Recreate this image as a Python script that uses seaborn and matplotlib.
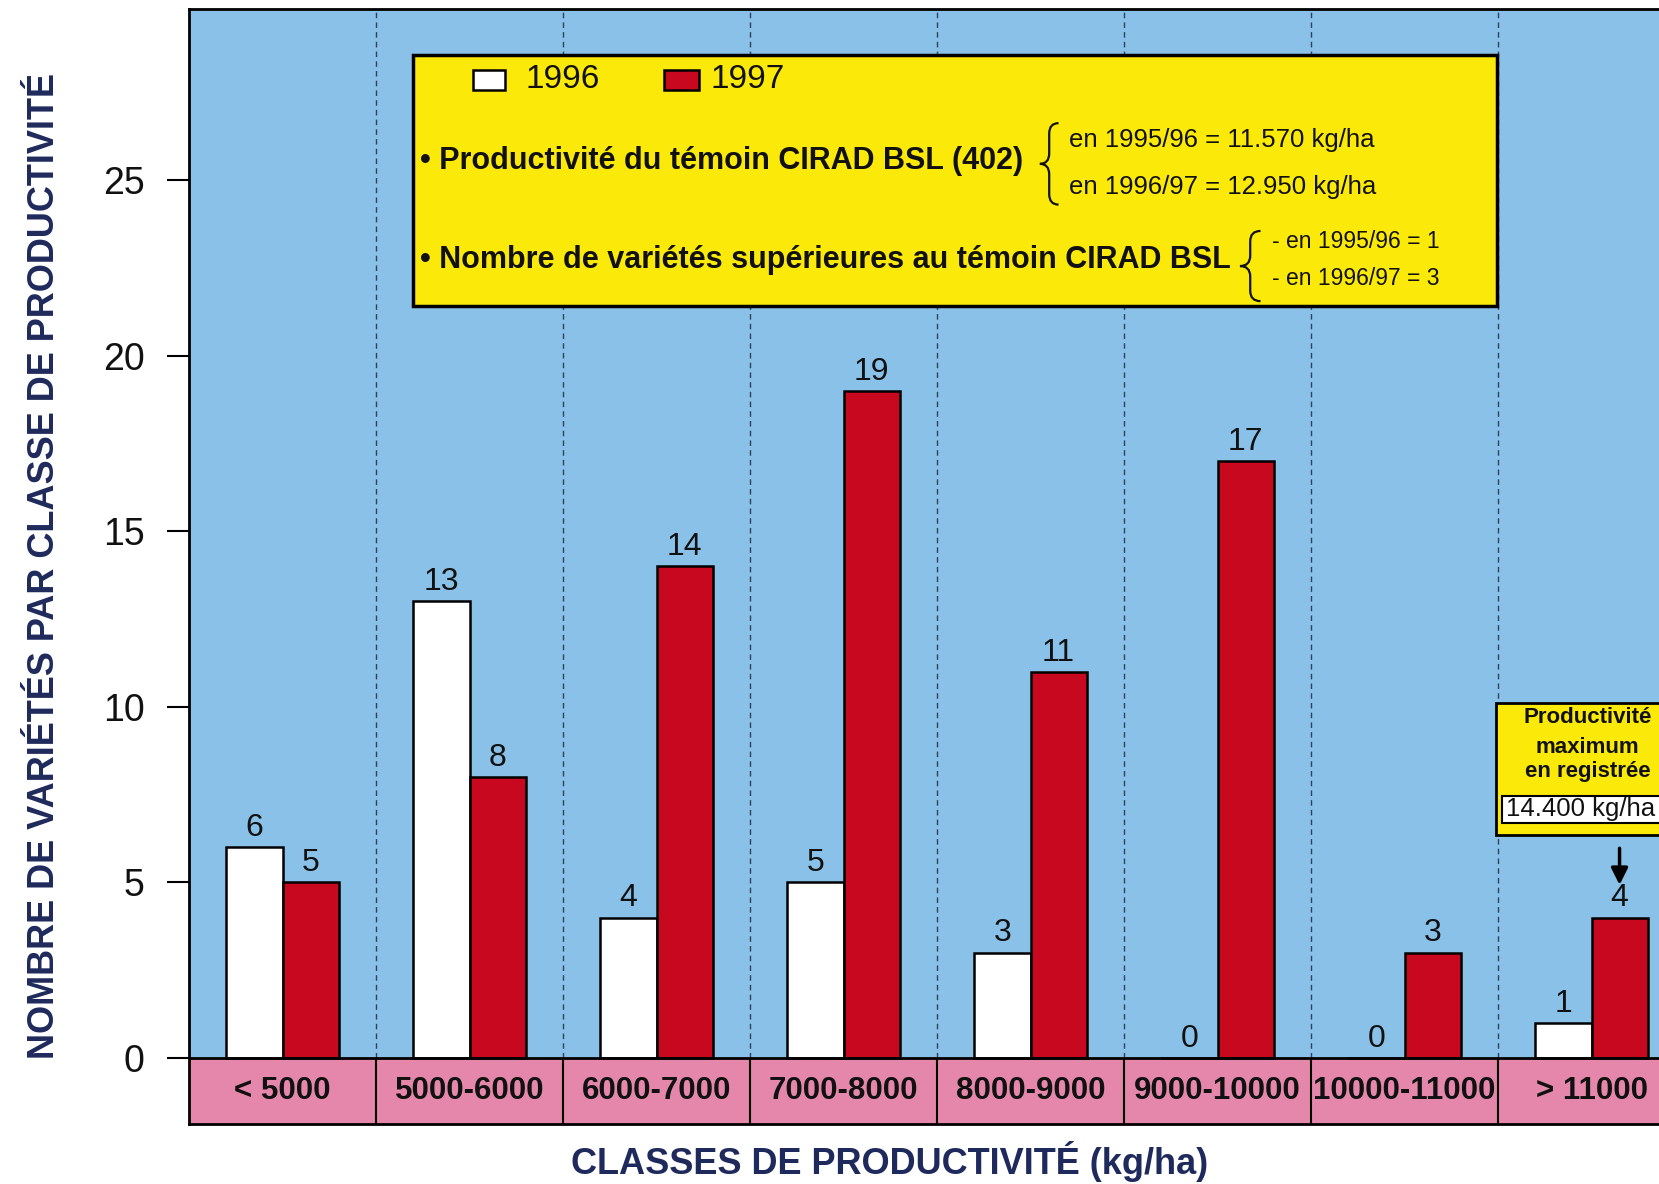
import matplotlib
matplotlib.use("Agg")
import matplotlib.pyplot as plt
from matplotlib.patches import Rectangle, PathPatch
from matplotlib.path import Path
import seaborn as sns
import pandas as pd

# ---- data ----
classes = ["< 5000", "5000-6000", "6000-7000", "7000-8000",
           "8000-9000", "9000-10000", "10000-11000", "> 11000"]
years = ["1996", "1997"]
counts_1996 = [6, 13, 4, 5, 3, 0, 0, 1]
counts_1997 = [5, 8, 14, 19, 11, 17, 3, 4]
y_ticks = [0, 5, 10, 15, 20, 25]

df = pd.DataFrame({
    "classe": classes * 2,
    "annee": [years[0]] * len(classes) + [years[1]] * len(classes),
    "n": counts_1996 + counts_1997,
})

# ---- style ----
sns.set_theme(style="white")
plt.rcParams["font.family"] = ["Liberation Sans", "DejaVu Sans"]

BLUE = "#8ac1e8"
PINK = "#e487aa"
RED = "#c8081f"
YELLOW = "#fbe90a"
NAVY = "#1f2a5c"
INK = "#111111"

fig = plt.figure(figsize=(16.59, 11.84), dpi=100)
ax = fig.add_axes([189 / 1659, 60 / 1184, 1496 / 1659, 1115 / 1184])
ax.set_facecolor(BLUE)

YMIN, YMAX = -1.88, 29.87

# dashed class separators
ax.vlines([i + 0.5 for i in range(len(classes) - 1)], 0, YMAX,
          colors="#33405a", linestyles=(0, (4, 3)), linewidth=1.0, zorder=1)

sns.barplot(data=df, x="classe", y="n", hue="annee", order=classes,
            hue_order=years, palette={"1996": "white", "1997": RED},
            saturation=1, width=0.6, gap=0, edgecolor="black", linewidth=1.8,
            legend=False, ax=ax, zorder=3)

for cont in ax.containers:
    ax.bar_label(cont, padding=3, fontsize=23, color=INK, zorder=4)

# category band under the zero line
ax.axhspan(YMIN, 0, color=PINK, zorder=2)
ax.axhline(0, color="black", linewidth=2, zorder=5)
ax.vlines([i + 0.5 for i in range(len(classes) - 1)], YMIN, 0,
          colors="black", linewidth=1.5, zorder=5)
for i, c in enumerate(classes):
    ax.text(i, YMIN / 2, c, ha="center", va="center", fontsize=22.5,
            fontweight="bold", color=INK, zorder=6)

ax.set_xlim(-0.5, 7.5)
ax.set_ylim(YMIN, YMAX)
ax.set_yticks(y_ticks)
ax.set_yticklabels([str(t) for t in y_ticks], fontsize=27, color=INK)
ax.set_xticks([])
ax.set_xlabel("")
ax.set_ylabel("")
ax.tick_params(axis="y", left=True, length=16, width=1.5, pad=16, color="black")
for s in ax.spines.values():
    s.set_color("black")
    s.set_linewidth(2)


def brace(ax, x_tip, x_end, y0, y1, d=0.25, **kw):
    xm = (x_tip + x_end) / 2
    ym = (y0 + y1) / 2
    verts = [(x_end, y1), (xm, y1), (xm, y1 - d),
             (xm, ym + d), (xm, ym), (x_tip, ym),
             (xm, ym), (xm, ym - d),
             (xm, y0 + d), (xm, y0), (x_end, y0)]
    codes = [Path.MOVETO, Path.CURVE3, Path.CURVE3,
             Path.LINETO, Path.CURVE3, Path.CURVE3,
             Path.CURVE3, Path.CURVE3,
             Path.LINETO, Path.CURVE3, Path.CURVE3]
    ax.add_patch(PathPatch(Path(verts, codes), fill=False, **kw))


# ---- information box ----
ax.add_patch(Rectangle((0.698, 21.40), 6.495 - 0.698, 28.57 - 21.40,
                       facecolor=YELLOW, edgecolor="black", linewidth=2.5, zorder=7))
ax.add_patch(Rectangle((1.019, 27.57), 0.172, 0.57, facecolor="white",
                       edgecolor="black", linewidth=1.8, zorder=8))
ax.text(1.30, 27.86, years[0], fontsize=24, va="center", ha="left", color=INK, zorder=8)
ax.add_patch(Rectangle((2.04, 27.57), 0.185, 0.57, facecolor=RED,
                       edgecolor="black", linewidth=1.8, zorder=8))
ax.text(2.29, 27.86, years[1], fontsize=24, va="center", ha="left", color=INK, zorder=8)

ax.text(0.735, 25.55, "• Productivité du témoin CIRAD BSL (402)", fontsize=22,
        fontweight="bold", va="center", ha="left", color=INK, zorder=8)
brace(ax, 4.05, 4.15, 24.30, 26.62, d=0.3, edgecolor=INK, linewidth=1.6, zorder=8)
ax.text(4.206, 26.15, "en 1995/96 = 11.570 kg/ha", fontsize=18.5, va="center",
        ha="left", color=INK, zorder=8)
ax.text(4.206, 24.81, "en 1996/97 = 12.950 kg/ha", fontsize=18.5, va="center",
        ha="left", color=INK, zorder=8)

ax.text(0.735, 22.73, "• Nombre de variétés supérieures au témoin CIRAD BSL",
        fontsize=22, fontweight="bold", va="center", ha="left", color=INK, zorder=8)
brace(ax, 5.12, 5.23, 21.55, 23.55, d=0.3, edgecolor=INK, linewidth=1.6, zorder=8)
ax.text(5.29, 23.25, "- en 1995/96 = 1", fontsize=16.5, va="center",
        ha="left", color=INK, zorder=8)
ax.text(5.29, 22.20, "- en 1996/97 = 3", fontsize=16.5, va="center",
        ha="left", color=INK, zorder=8)

# ---- maximum yield note ----
ax.add_patch(Rectangle((6.49, 6.35), 1.2, 10.11 - 6.35, facecolor=YELLOW,
                       edgecolor="black", linewidth=2, zorder=7))
ax.add_patch(Rectangle((6.52, 6.70), 1.2, 7.46 - 6.70, facecolor="white",
                       edgecolor="black", linewidth=1.5, zorder=8))
for yy, line in [(9.69, "Productivité"), (8.83, "maximum"), (8.15, "en registrée")]:
    ax.text(6.98, yy, line, fontsize=16, fontweight="bold", ha="center",
            va="center", color=INK, zorder=9)
ax.text(6.94, 7.08, "14.400 kg/ha", fontsize=18.5, ha="center", va="center",
        color=INK, zorder=9)
ax.annotate("", xy=(7.15, 4.85), xytext=(7.15, 6.05),
            arrowprops=dict(arrowstyle="-|>", color="black", lw=2.5,
                            mutation_scale=25), zorder=9)

# ---- axis titles ----
fig.text(0.027, 0.522, "NOMBRE DE VARIÉTÉS PAR CLASSE DE PRODUCTIVITÉ",
         rotation=90, ha="center", va="center", fontsize=26,
         fontweight="bold", color=NAVY)
fig.text(0.536, 0.0186, "CLASSES DE PRODUCTIVITÉ (kg/ha)", ha="center",
         va="center", fontsize=26, fontweight="bold", color=NAVY)

fig.savefig("out.png", dpi=100, facecolor="white")
